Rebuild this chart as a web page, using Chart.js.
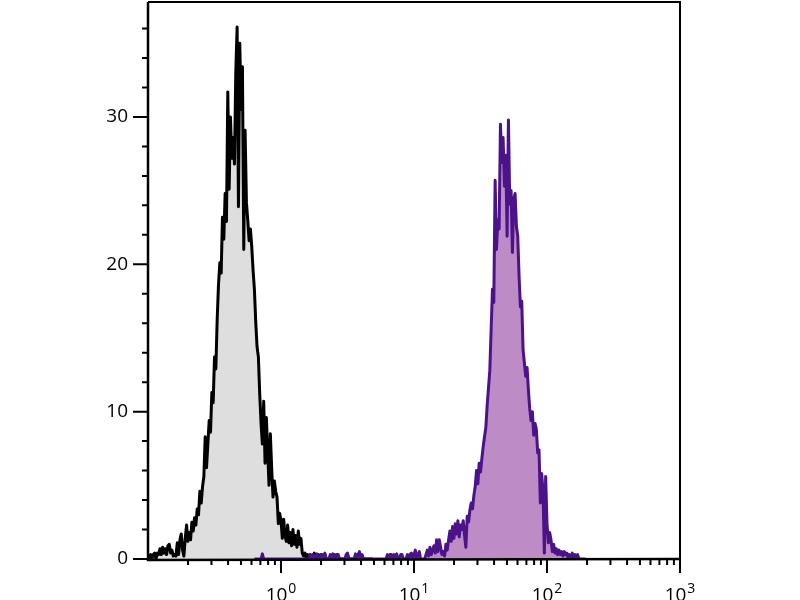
<!DOCTYPE html>
<html>
<head>
<meta charset="utf-8">
<script src="https://cdn.jsdelivr.net/npm/chart.js@4.4.0/dist/chart.umd.min.js"></script>
<style>
  html, body { margin: 0; padding: 0; background: #fff; }
</style>
</head>
<body>
<canvas id="chart" width="800" height="600"></canvas>
<script>
// histogram channels: 100 bins per decade, starting at 0.1
const binsPerDecade = 100;
const xMin = 0.1;

// unstained / isotype (grey)
const greyStart = 0;
const greyCounts = [
  0, 0, 0.3, 0, 0.3, 0.4, 0, 0.4, 0.3, 0.7,
  0.3, 0.8, 0.4, 0.7, 0.3, 0.9, 1.0, 0.4, 0.6, 0.2,
  0.3, 0.2, 1.1, 0.3, 1.3, 1.7, 0.6, 0.2, 1.4, 2.3,
  1.2, 1.8, 1.3, 2.5, 1.9, 2.8, 2.3, 3.4, 3.0, 4.6,
  3.8, 4.9, 5.6, 8.3, 6.2, 7.8, 9.4, 8.6, 11.3, 10.6,
  13.7, 12.9, 16.2, 18.6, 20.1, 19.4, 23.2, 21.7, 24.8, 22.9,
  31.7, 25.1, 30.0, 27.2, 28.6, 26.8, 33.0, 36.1, 23.9, 35.0,
  30.5, 33.4, 21.0, 29.1, 24.2, 23.0, 21.6, 22.4, 21.2, 19.6,
  18.3, 16.1, 14.4, 13.7, 11.2, 9.2, 7.8, 10.7, 6.5, 9.6,
  7.2, 5.0, 8.5, 6.1, 4.2, 5.3, 4.6, 4.2, 2.4, 3.1,
  2.6, 1.4, 2.7, 1.6, 1.2, 2.3, 1.1, 1.8, 0.9, 2.0,
  1.0, 1.6, 0.8, 1.9, 1.0, 1.4, 0.4, 0.2, 0.4, 0.1,
  0.3, 0, 0.3, 0.2, 0, 0.4, 0, 0, 0.3, 0,
  0.3, 0, 0, 0.3, 0, 0, 0, 0, 0, 0,
  0.3, 0, 0.3, 0, 0, 0, 0, 0, 0, 0,
  0.3, 0, 0, 0, 0, 0, 0, 0, 0.3, 0,
  0.3, 0, 0, 0, 0, 0, 0, 0, 0, 0
];

// stained (purple)
const purpleStart = 80;
const purpleCounts = [
  0, 0, 0, 0, 0, 0, 0.35, 0, 0, 0,
  0, 0, 0, 0, 0, 0, 0, 0, 0, 0,
  0, 0, 0, 0, 0, 0, 0, 0, 0, 0,
  0, 0, 0, 0, 0, 0, 0, 0, 0, 0,
  0, 0, 0.3, 0, 0.3, 0.2, 0, 0.35, 0, 0,
  0.3, 0.3, 0, 0.4, 0, 0, 0, 0.3, 0, 0.35,
  0.2, 0, 0.3, 0.3, 0, 0, 0, 0, 0, 0.3,
  0.4, 0, 0, 0, 0, 0, 0.35, 0, 0.3, 0.5,
  0, 0.3, 0, 0, 0, 0, 0, 0, 0, 0,
  0, 0, 0, 0, 0, 0, 0, 0, 0, 0,
  0.3, 0, 0.3, 0.3, 0, 0.3, 0, 0.35, 0, 0,
  0.3, 0.3, 0, 0, 0, 0.3, 0, 0.3, 0.4, 0,
  0.3, 0.6, 0, 0.3, 0.5, 0, 0, 0, 0, 0.3,
  0.6, 0.2, 0.8, 0.3, 0.6, 0.9, 0.4, 1.3, 0.5, 1.3,
  0.8, 0.3, 0.5, 0.2, 1.0, 0.6, 1.3, 1.9, 1.2, 2.2,
  1.4, 2.4, 1.7, 2.6, 1.5, 2.3, 2.0, 2.6, 1.6, 0.8,
  2.9, 2.5, 3.3, 3.8, 3.4, 4.3, 4.9, 6.0, 5.1, 6.5,
  5.9, 6.8, 7.6, 8.3, 8.9, 10.4, 11.6, 12.8, 15.6, 18.3,
  17.4, 25.7, 21.0, 23.0, 22.4, 29.5, 26.9, 28.6, 25.3, 27.4,
  21.9, 29.8, 24.1, 25.0, 20.8, 24.4, 24.8, 22.6, 21.9, 19.2,
  17.1, 17.5, 14.2, 13.3, 12.4, 13.0, 11.5, 10.2, 9.4, 10.0,
  8.4, 9.2, 8.8, 7.2, 7.4, 3.8, 5.8, 4.6, 0.4, 5.6,
  2.4, 1.1, 1.8, 1.3, 0.5, 1.0, 0.4, 0.7, 0.3, 0.6,
  0.3, 0.5, 0.2, 0.5, 0.3, 0.4, 0, 0.3, 0.1, 0.4,
  0, 0.3, 0, 0.3, 0, 0, 0, 0, 0, 0
];

const yTicks = [0, 10, 20, 30];
const yMinorStep = 2;
const yMax = 37.8;
const xDecades = [1, 10, 100, 1000];
const xTickBase = "10";
const xTickExponents = ["0", "1", "2", "3"];

function toPoints(start, counts) {
  return counts.map((y, i) => ({ x: xMin * Math.pow(10, (start + i) / binsPerDecade), y: y }));
}

const fontFamily = "'Open Sans', 'DejaVu Sans', sans-serif";

// axes, frame, tick marks and the 10^n labels, drawn over the histograms
const framePlugin = {
  id: "frame",
  afterDatasetsDraw(chart) {
    const { ctx, chartArea: a, scales } = chart;
    const x = scales.x, y = scales.y;
    ctx.save();
    ctx.strokeStyle = "#000";
    ctx.lineCap = "butt";
    ctx.lineWidth = 2;
    ctx.beginPath();
    ctx.moveTo(a.left, a.top); ctx.lineTo(a.right, a.top); ctx.lineTo(a.right, a.bottom);
    ctx.stroke();
    ctx.lineWidth = 2.5;
    ctx.beginPath();
    ctx.moveTo(a.left, a.top); ctx.lineTo(a.left, a.bottom + 1); ctx.lineTo(a.right + 1, a.bottom);
    ctx.stroke();
    ctx.lineWidth = 2;
    ctx.beginPath();
    for (let v = 0; v <= yMax; v += yMinorStep) {
      const py = y.getPixelForValue(v);
      const len = v % 10 === 0 ? 15 : 6;
      ctx.moveTo(a.left - len, py); ctx.lineTo(a.left, py);
    }
    [0.1, 1, 10, 100].forEach(d => {
      for (let m = 1; m <= 9; m++) {
        if (d === 0.1 && m === 1) continue;
        const px = x.getPixelForValue(m * d);
        const len = m === 1 ? 14 : 6;
        ctx.moveTo(px, a.bottom); ctx.lineTo(px, a.bottom + len);
      }
    });
    const pEnd = x.getPixelForValue(1000);
    ctx.moveTo(pEnd, a.bottom); ctx.lineTo(pEnd, a.bottom + 14);
    ctx.stroke();

    ctx.fillStyle = "#000";
    ctx.textBaseline = "alphabetic";
    ctx.textAlign = "left";
    const baseFont = "19px " + fontFamily;
    const supFont = "14px " + fontFamily;
    xDecades.forEach((v, i) => {
      ctx.font = baseFont;
      const wb = ctx.measureText(xTickBase).width;
      ctx.font = supFont;
      const ws = ctx.measureText(xTickExponents[i]).width;
      const px = x.getPixelForValue(v);
      const left = px - (wb + 1 + ws) / 2;
      ctx.font = baseFont;
      ctx.fillText(xTickBase, left, 601);
      ctx.font = supFont;
      ctx.fillText(xTickExponents[i], left + wb + 1, 593);
    });
    ctx.restore();
  }
};

new Chart(document.getElementById("chart"), {
  type: "line",
  data: {
    datasets: [
      {
        data: toPoints(purpleStart, purpleCounts),
        borderColor: "#4c128a",
        backgroundColor: "#bd8cc6",
        fill: "origin",
        borderWidth: 3,
        pointRadius: 0,
        tension: 0,
        borderJoinStyle: "round"
      },
      {
        data: toPoints(greyStart, greyCounts),
        borderColor: "#000000",
        backgroundColor: "#dedede",
        fill: "origin",
        borderWidth: 3,
        pointRadius: 0,
        tension: 0,
        borderJoinStyle: "round"
      }
    ]
  },
  options: {
    responsive: false,
    animation: false,
    layout: { padding: { left: 0, right: 120, top: 2, bottom: 0 } },
    plugins: { legend: { display: false }, tooltip: { enabled: false } },
    scales: {
      x: {
        type: "logarithmic",
        min: 0.1,
        max: 1000,
        grid: { display: false, drawTicks: false },
        border: { display: false },
        afterBuildTicks: s => { s.ticks = xDecades.map(v => ({ value: v })); },
        afterFit: s => { s.height = 41; s.paddingLeft = 0; s.paddingRight = 0; },
        ticks: { display: false, autoSkip: false, maxRotation: 0 }
      },
      y: {
        type: "linear",
        min: 0,
        max: yMax,
        grid: { display: false, drawTicks: false },
        border: { display: false },
        afterBuildTicks: s => { s.ticks = yTicks.map(v => ({ value: v })); },
        afterFit: s => { s.width = 148; s.paddingTop = 0; s.paddingBottom = 0; },
        ticks: { padding: 20, color: "#000", font: { family: fontFamily, size: 19 } }
      }
    }
  },
  plugins: [framePlugin]
});
</script>
</body>
</html>
